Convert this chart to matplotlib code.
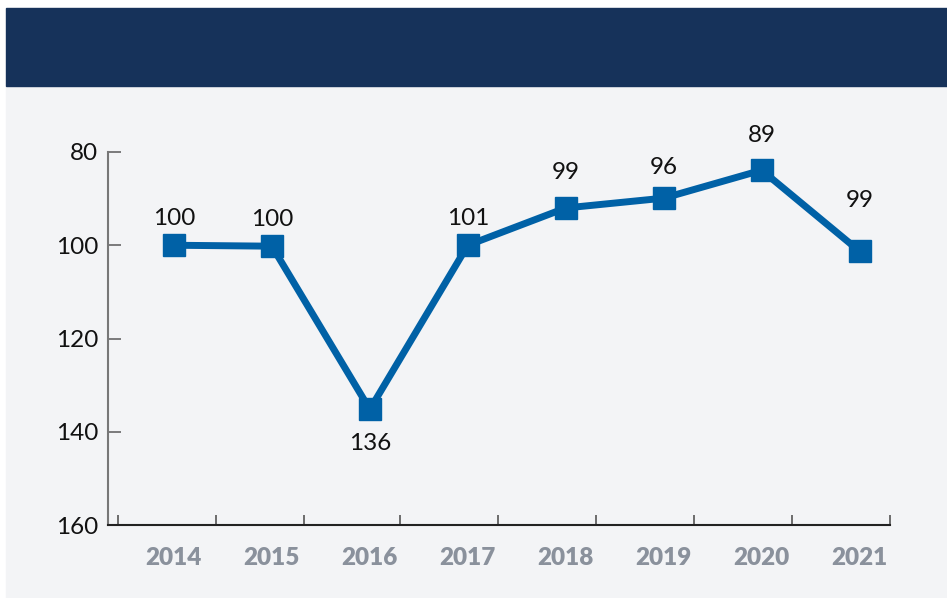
import numpy as np
import matplotlib
matplotlib.use("Agg")
import matplotlib.pyplot as plt
from matplotlib.patches import Rectangle

# data (y axis is inverted)
years = ["2014", "2015", "2016", "2017", "2018", "2019", "2020", "2021"]
values = [100.0, 100.2, 135.2, 100.0, 92.0, 89.9, 83.9, 101.3]
labels = ["100", "100", "136", "101", "99", "96", "89", "99"]

# label offsets in pixels (positive = above marker)
label_dy = [27, 27, -34, 27, 35, 31, 35, 51]

NAVY = "#16325a"
PANEL = "#f3f4f6"
BLUE = "#0061a6"
YEARGRAY = "#8a919c"

plt.rcParams['font.family'] = ['Lato', 'DejaVu Sans']

fig = plt.figure(figsize=(9.47, 5.98), dpi=100)
fig.patch.set_facecolor("white")

# background panel and header band
fig.add_artist(Rectangle((6 / 947, 0), 1, (598 - 86) / 598,
                         transform=fig.transFigure, color=PANEL, zorder=-10))
fig.add_artist(Rectangle((6 / 947, (598 - 86) / 598), 1, 78 / 598,
                         transform=fig.transFigure, color=NAVY, zorder=-10))

ax = fig.add_axes([108 / 947, 1 - 525 / 598, (890 - 108) / 947, (525 - 152) / 598])
ax.set_facecolor("none")

x = np.arange(len(years))
ax.plot(x, values, color=BLUE, lw=5, marker="s", markersize=15.8,
        clip_on=False, zorder=3)

for xi, v, lab, dy in zip(x, values, labels, label_dy):
    ax.annotate(lab, (xi, v), xytext=(0, dy * 0.72), textcoords="offset points",
                ha="center", va="center", fontsize=17.5, color="#111111",
                annotation_clip=False)

ax.set_ylim(160, 80)
ax.set_yticks([80, 100, 120, 140, 160])
ax.set_xlim(-0.673, 7.306)

# year labels on major ticks, boundary ticks as minor
ax.set_xticks(x)
ax.set_xticklabels(years, fontsize=17.5, fontweight="heavy", color=YEARGRAY)
ax.tick_params(axis="x", which="major", length=0, pad=16)
ax.set_xticks([-0.57, 0.43, 1.33, 2.31, 3.31, 4.31, 5.31, 6.31, 7.31], minor=True)
ax.tick_params(axis="x", which="minor", direction="in", length=7,
               width=1.2, color="#555555")

ax.tick_params(axis="y", direction="in", length=9, width=1.2, color="#666666",
               labelsize=17.5, labelcolor="#111111", pad=7)

for s in ["top", "right"]:
    ax.spines[s].set_visible(False)
ax.spines["left"].set_color("#777777")
ax.spines["left"].set_linewidth(1.5)
ax.spines["bottom"].set_color("#222222")
ax.spines["bottom"].set_linewidth(1.5)

fig.savefig("out.png", dpi=100)
